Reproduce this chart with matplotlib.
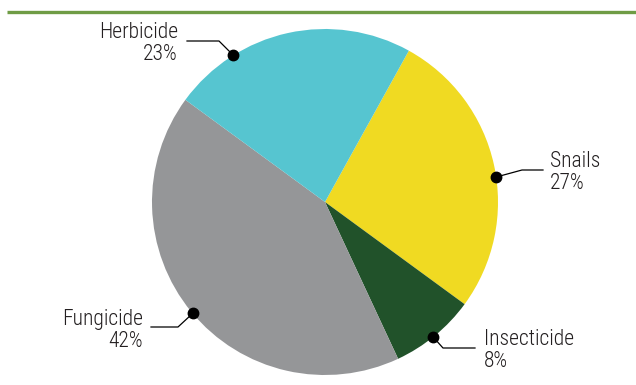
import matplotlib.pyplot as plt
import numpy as np

# pesticide use share, clockwise from the top right
categories = ['Snails', 'Insecticide', 'Fungicide', 'Herbicide']
shares = [27, 8, 42, 23]
colors = ['#F0DA22', '#21522A', '#959698', '#56C5D0']

W, H = 636, 385
CX, CY, R = 325, H - 202, 173

# label layout: (dot angle on rim, elbow xy, line end xy, text x, align, baseline y)
layout = {
    'Herbicide':   (122.0, (219, H - 41), (187, H - 41), 178, 'right', H - 38),
    'Snails':      (8.3, (522, H - 170), (543, H - 170), 550, 'left', H - 167),
    'Insecticide': (-51.3, (443, H - 348), (475, H - 348), 484, 'left', H - 345),
    'Fungicide':   (220.1, (178, H - 327), (151, H - 327), 143, 'right', H - 325),
}

FONT = ['Liberation Sans Narrow', 'Roboto Condensed', 'Roboto', 'DejaVu Sans']
TXT = '#231F20'

fig = plt.figure(figsize=(W / 100, H / 100), dpi=100)
ax = fig.add_axes([0, 0, 1, 1])

ax.pie(shares, colors=colors, startangle=61, counterclock=False,
       center=(CX, CY), radius=R, wedgeprops=dict(linewidth=0))

# green rule along the top
ax.plot([7, W], [H - 11.5, H - 11.5], color='#6F9C45', lw=2.4, solid_capstyle='butt')

for name, val in zip(categories, shares):
    ang, elbow, end, tx, ha, base = layout[name]
    a = np.deg2rad(ang)
    dot = (CX + R * np.cos(a), CY + R * np.sin(a))
    ax.plot([dot[0], elbow[0], end[0]], [dot[1], elbow[1], end[1]],
            color='black', lw=0.9)
    ax.plot(*dot, 'o', color='black', ms=7.5)
    ax.text(tx, base, name, ha=ha, va='baseline', fontsize=15.5,
            family=FONT, weight='light', color=TXT)
    ax.text(tx, base - 22, f'{val}%', ha=ha, va='baseline', fontsize=15.5,
            family=FONT, weight='light', color=TXT)

ax.set_xlim(0, W)
ax.set_ylim(0, H)
ax.set_aspect('equal')
ax.axis('off')

fig.savefig('out.png', dpi=100)
